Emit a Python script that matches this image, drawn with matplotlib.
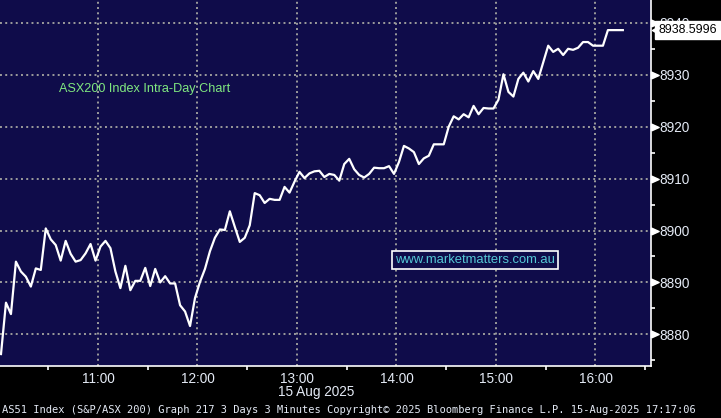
import matplotlib
matplotlib.use('Agg')
import matplotlib.pyplot as plt
import matplotlib.transforms as mtransforms
from matplotlib.ticker import FixedLocator, FuncFormatter
import numpy as np

# ASX200 3-minute closes, 15 Aug 2025
asx200 = [8876.2, 8886.1, 8883.9, 8894.0, 8892.1, 8891.1, 8889.2, 8892.7, 8892.4, 8900.4,
          8898.3, 8897.2, 8894.2, 8898.0, 8895.5, 8894.0, 8894.3, 8895.6, 8897.4, 8894.2,
          8896.9, 8898.0, 8896.6, 8892.1, 8888.9, 8893.2, 8888.5, 8890.3, 8890.3, 8892.8,
          8889.3, 8892.6, 8890.0, 8891.2, 8889.8, 8889.8, 8885.6, 8884.4, 8881.6, 8887.0,
          8890.1, 8892.6, 8896.0, 8898.6, 8900.2, 8900.1, 8903.7, 8900.7, 8897.8, 8898.6,
          8901.0, 8907.2, 8906.8, 8905.3, 8906.1, 8905.9, 8905.9, 8908.4, 8907.3, 8909.4,
          8911.3, 8910.1, 8911.0, 8911.4, 8911.5, 8910.3, 8910.9, 8910.7, 8909.6, 8912.8,
          8913.8, 8911.8, 8910.7, 8910.2, 8910.9, 8912.1, 8912.0, 8912.0, 8912.4, 8910.9,
          8913.2, 8916.3, 8915.8, 8915.1, 8912.8, 8913.9, 8914.4, 8916.6, 8916.6, 8916.6,
          8920.0, 8922.0, 8921.4, 8922.4, 8921.8, 8924.0, 8922.4, 8923.6, 8923.5, 8923.5,
          8925.2, 8930.1, 8926.7, 8925.8, 8929.2, 8930.4, 8928.7, 8930.7, 8929.2, 8932.4,
          8935.6, 8934.4, 8935.0, 8933.8, 8935.0, 8934.8, 8935.2, 8936.3, 8936.3, 8935.6,
          8935.6, 8935.6, 8938.6, 8938.6, 8938.6, 8938.5996]
last_price = 8938.5996

# bar times in minutes after 10:00 (3 minute bars)
minutes = 1.5 + 3 * np.arange(len(asx200))

hour_ticks = [60, 120, 180, 240, 300, 360]
half_ticks = [30, 90, 150, 210, 270, 330, 390]
price_ticks = [8880, 8890, 8900, 8910, 8920, 8930, 8940]
price_minor = [8875, 8885, 8895, 8905, 8915, 8925, 8935]

navy = '#0f0c4a'
txt = '#e4eaf5'

fig = plt.figure(figsize=(7.21, 4.18), dpi=100, facecolor='black')
ax = fig.add_axes([0, 52 / 418, 650.7 / 721, 366 / 418])
ax.set_facecolor(navy)

ax.plot(minutes, asx200, color='white', lw=1.6, zorder=4, solid_joinstyle='round')

ax.set_xlim(0.9, 393.3)
ax.set_ylim(8873.9, 8944.4)

for s in ['left', 'top']:
	ax.spines[s].set_visible(False)
for s in ['right', 'bottom']:
	ax.spines[s].set_color('white')
	ax.spines[s].set_linewidth(1.2)

ax.yaxis.tick_right()
ax.yaxis.set_major_locator(FixedLocator(price_ticks))
ax.yaxis.set_minor_locator(FixedLocator(price_minor))
ax.xaxis.set_major_locator(FixedLocator(hour_ticks))
ax.xaxis.set_minor_locator(FixedLocator(half_ticks))
ax.xaxis.set_major_formatter(FuncFormatter(lambda v, p: '%d:00' % (10 + int(v) // 60)))

ax.tick_params(axis='y', which='major', length=0, pad=6.5, labelcolor=txt, labelsize=9.8)
ax.tick_params(axis='y', which='minor', length=3, width=1.2, color='white')
ax.tick_params(axis='x', which='major', length=0, pad=4, labelcolor=txt, labelsize=9.8)
ax.tick_params(axis='x', which='minor', length=3, width=1.2, color='white')
for lab in ax.get_xticklabels() + ax.get_yticklabels():
	lab.set_family('Liberation Sans')

ax.grid(True, which='major', color='#9c9c9c', linestyle=(0, (1, 1.7)), lw=1.4)

# arrow heads on the price axis
trans = mtransforms.blended_transform_factory(ax.transAxes, ax.transData)
arrow_right = [(0, -0.45), (1, 0), (0, 0.45), (0, -0.45)]
ax.plot([1.0] * len(price_ticks), price_ticks, ls='none', marker=arrow_right, ms=11,
	color='white', transform=trans, clip_on=False, zorder=5)

# last price tag
arrow_left = [(0, 0), (1, -0.6), (1, 0.6), (0, 0)]
ax.plot([651.5 / 650.7], [last_price], ls='none', marker=arrow_left, ms=9,
	color='white', transform=trans, clip_on=False, zorder=5.5)
ax.text(658.5 / 650.7, last_price, '%.4f' % last_price, transform=trans, ha='left', va='center',
	fontsize=8.9, family='Liberation Sans', color='black', zorder=6,
	bbox=dict(boxstyle='square,pad=0.25', fc='white', ec='white'))

ax.text(0.0907, 0.757, 'ASX200 Index Intra-Day Chart', transform=ax.transAxes,
	ha='left', va='center', fontsize=9.1, family='Liberation Sans', color='#80e880')

ax.text(0.730, 0.2896, 'www.marketmatters.com.au', transform=ax.transAxes,
	ha='center', va='center', fontsize=9.4, family='Liberation Sans', color='#55c8d6',
	zorder=6, bbox=dict(boxstyle='square,pad=0.2', fc=navy, ec='white', lw=1.2))

fig.text(316.5 / 721, 1 - 392 / 418, '15 Aug 2025', ha='center', va='center',
	fontsize=9.8, family='Liberation Sans', color=txt)
fig.text(2 / 721, 1 - 410 / 418,
	'AS51 Index (S&P/ASX 200) Graph 217 3 Days 3 Minutes Copyright\u00a9 2025 Bloomberg Finance L.P. 15-Aug-2025 17:17:06',
	ha='left', va='center', fontsize=7.5, family='DejaVu Sans Mono', color=txt)

fig.savefig('out.png', dpi=100, facecolor='black')
